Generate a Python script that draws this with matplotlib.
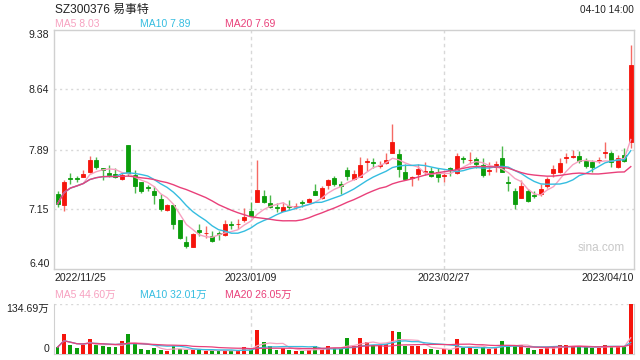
import numpy as np
import pandas as pd
import matplotlib
matplotlib.use('Agg')
import matplotlib.pyplot as plt

plt.rcParams['font.family'] = ['Liberation Sans', 'Noto Sans CJK SC', 'DejaVu Sans']

# 日K数据 (2022/11/25 - 2023/04/10, 90 个交易日)
opens = [7.335, 7.198, 7.541, 7.533, 7.554, 7.604, 7.761, 7.657, 7.600, 7.587,
         7.525, 7.947, 7.575, 7.484, 7.426, 7.380, 7.277, 7.136, 7.202, 7.016,
         6.738, 6.676, 6.883, 6.846, 6.817, 6.850, 6.821, 6.962, 6.958, 7.007,
         7.127, 7.231, 7.310, 7.223, 7.177, 7.119, 7.185, 7.173, 7.239, 7.231,
         7.376, 7.293, 7.450, 7.533, 7.459, 7.637, 7.525, 7.554, 7.732, 7.740,
         7.682, 7.720, 7.844, 7.831, 7.616, 7.537, 7.583, 7.612, 7.624, 7.608,
         7.562, 7.657, 7.595, 7.790, 7.757, 7.773, 7.699, 7.624, 7.678, 7.790,
         7.492, 7.376, 7.293, 7.376, 7.326, 7.335, 7.430, 7.595, 7.616, 7.782,
         7.798, 7.811, 7.749, 7.740, 7.744, 7.848, 7.852, 7.678, 7.823, 7.980]
highs = [7.368, 7.513, 7.595, 7.566, 7.633, 7.811, 7.794, 7.666, 7.699, 7.657,
         7.595, 7.947, 7.637, 7.492, 7.450, 7.430, 7.335, 7.214, 7.202, 7.016,
         6.817, 6.854, 6.966, 6.933, 6.871, 6.871, 7.016, 7.003, 7.028, 7.161,
         7.231, 7.761, 7.388, 7.318, 7.223, 7.235, 7.264, 7.223, 7.264, 7.285,
         7.459, 7.430, 7.525, 7.566, 7.500, 7.678, 7.629, 7.802, 7.790, 7.790,
         7.749, 7.852, 8.208, 7.893, 7.707, 7.566, 7.707, 7.740, 7.678, 7.657,
         7.616, 7.670, 7.844, 7.815, 7.856, 7.802, 7.790, 7.740, 7.749, 7.935,
         7.562, 7.409, 7.512, 7.401, 7.376, 7.459, 7.554, 7.699, 7.790, 7.844,
         7.881, 7.873, 7.790, 7.761, 7.802, 7.980, 7.873, 7.823, 7.906, 9.190]
lows = [7.181, 7.119, 7.467, 7.484, 7.546, 7.595, 7.649, 7.512, 7.546, 7.533,
        7.512, 7.566, 7.355, 7.355, 7.380, 7.214, 7.119, 7.119, 6.904, 6.776,
        6.664, 6.676, 6.809, 6.788, 6.738, 6.767, 6.809, 6.896, 6.904, 6.987,
        7.057, 7.231, 7.223, 7.161, 7.111, 7.119, 7.140, 7.152, 7.169, 7.223,
        7.318, 7.277, 7.397, 7.442, 7.335, 7.512, 7.512, 7.542, 7.624, 7.657,
        7.666, 7.707, 7.844, 7.542, 7.512, 7.430, 7.512, 7.575, 7.542, 7.492,
        7.492, 7.566, 7.583, 7.720, 7.711, 7.657, 7.542, 7.575, 7.616, 7.608,
        7.368, 7.152, 7.285, 7.235, 7.285, 7.306, 7.409, 7.550, 7.595, 7.720,
        7.782, 7.720, 7.657, 7.608, 7.720, 7.782, 7.678, 7.666, 7.732, 7.914]
closes = [7.214, 7.492, 7.525, 7.517, 7.587, 7.761, 7.678, 7.641, 7.575, 7.550,
          7.575, 7.595, 7.442, 7.380, 7.409, 7.318, 7.152, 7.198, 6.966, 6.788,
          6.684, 6.838, 6.867, 6.854, 6.747, 6.833, 6.962, 6.950, 6.966, 7.045,
          7.069, 7.388, 7.243, 7.169, 7.161, 7.177, 7.169, 7.185, 7.223, 7.272,
          7.326, 7.409, 7.512, 7.459, 7.442, 7.566, 7.587, 7.699, 7.744, 7.724,
          7.695, 7.761, 7.980, 7.649, 7.525, 7.554, 7.649, 7.624, 7.566, 7.554,
          7.575, 7.641, 7.811, 7.773, 7.765, 7.707, 7.575, 7.633, 7.711, 7.616,
          7.475, 7.214, 7.438, 7.252, 7.310, 7.401, 7.525, 7.649, 7.728, 7.794,
          7.807, 7.753, 7.691, 7.678, 7.757, 7.860, 7.732, 7.790, 7.749, 8.941]
# 成交量 (万手)
volumes = [19, 54, 25, 16, 25, 41, 25, 22, 19, 19,
           36, 54, 28, 14, 12, 17, 11, 9, 22, 14,
           11, 11, 11, 9, 11, 9, 11, 9, 9, 19,
           14, 65, 32, 22, 11, 17, 11, 9, 9, 11,
           22, 14, 22, 17, 14, 43, 22, 43, 32, 25,
           25, 28, 62, 59, 22, 22, 22, 14, 14, 11,
           14, 11, 41, 19, 19, 14, 19, 14, 19, 37,
           22, 22, 26, 17, 11, 14, 19, 22, 25, 25,
           22, 22, 19, 17, 17, 25, 21, 21, 21, 134.69]

date_labels = ['2022/11/25', '2023/01/09', '2023/02/27', '2023/04/10']
date_idx = [0, 30, 60, 89]
price_ticks = [6.40, 7.15, 7.89, 8.64, 9.38]
vol_max = 134.69

RED = '#f5140c'
GREEN = '#0a9d0a'
C_MA5 = '#f7a1c0'
C_MA10 = '#35bde0'
C_MA20 = '#e9407a'
GRID = '#d8d8d8'
FRAME = '#d0d0d0'

o = np.array(opens)
h = np.array(highs)
l = np.array(lows)
c = np.array(closes)
v = np.array(volumes)
x = np.arange(len(c))
up = c >= o
cols = np.where(up, RED, GREEN)
wick_cols = np.where(up, '#f56a64', '#4cb84c')

fig = plt.figure(figsize=(6.4, 3.6), dpi=100)
ax = fig.add_axes([54.3 / 640, 1 - 269.3 / 360, (634 - 54.3) / 640, (269.3 - 29.7) / 360])
axv = fig.add_axes([54.3 / 640, 1 - 354.3 / 360, (634 - 54.3) / 640, 50 / 360])

# K线
ax.vlines(x, l, h, colors=wick_cols, linewidth=1.0, zorder=2)
body_bot = np.minimum(o, c)
body_h = np.maximum(np.abs(c - o), 0.006)
ax.bar(x, body_h, bottom=body_bot, width=0.62, color=cols, edgecolor=cols,
       linewidth=0.6, zorder=3)

s = pd.Series(c)
ax.plot(x, s.rolling(5, min_periods=1).mean(), color=C_MA5, lw=1.0, zorder=4)
ax.plot(x, s.rolling(10, min_periods=1).mean(), color=C_MA10, lw=1.0, zorder=4)
ax.plot(x, s.rolling(20, min_periods=1).mean(), color=C_MA20, lw=1.0, zorder=4)

ax.set_xlim(-0.5, 89.5)
ax.set_ylim(price_ticks[0], price_ticks[-1])
ax.set_yticks(price_ticks)
ax.set_yticklabels(['%.2f' % t for t in price_ticks])
ax.set_xticks([])
ax.tick_params(axis='y', length=0, labelsize=7.6, pad=3.5, colors='#222222')
tl = ax.get_yticklabels()
tl[0].set_va('bottom')
tl[-1].set_va('top')
for t in price_ticks[1:-1]:
    ax.axhline(t, color=GRID, lw=1.0, ls=(0, (1.5, 2.5)), zorder=1)
for i in date_idx[1:3]:
    ax.axvline(i, color=GRID, lw=1.0, ls=(0, (2.5, 2.5)), zorder=1)
for sp in ax.spines.values():
    sp.set_color(FRAME)
    sp.set_linewidth(1.0)

ax.text(0.985, 0.09, 'sina.com', transform=ax.transAxes, ha='right', va='center',
        fontsize=8.5, color='#c8c8c8')

# 日期
for lab, i in zip(date_labels, date_idx):
    ha = 'center'
    if i == date_idx[0]:
        ha = 'left'
        xx = -0.5
    elif i == date_idx[-1]:
        ha = 'right'
        xx = 89.5
    else:
        xx = i
    ax.text(xx, -0.016, lab, transform=ax.get_xaxis_transform(), ha=ha, va='top',
            fontsize=7.6, color='#222222')

# 成交量
axv.bar(x, v, width=0.6, color=cols, linewidth=0, zorder=3)
vs = pd.Series(v)
axv.plot(x, vs.rolling(5, min_periods=1).mean(), color=C_MA5, lw=0.9, zorder=4)
axv.plot(x, vs.rolling(10, min_periods=1).mean(), color=C_MA10, lw=0.9, zorder=4)
axv.plot(x, vs.rolling(20, min_periods=1).mean(), color=C_MA20, lw=0.9, zorder=4)
axv.set_xlim(-0.5, 89.5)
axv.set_ylim(0, vol_max)
axv.set_yticks([0, vol_max])
axv.set_yticklabels(['0', '%.2f万' % vol_max])
axv.set_xticks([])
axv.tick_params(axis='y', length=0, labelsize=7.6, pad=3.5, colors='#222222')
vl = axv.get_yticklabels()
vl[0].set_va('bottom')
vl[-1].set_va('top')
axv.axhline(vol_max, color=GRID, lw=1.0, ls=(0, (1.5, 2.5)), zorder=1)
for i in date_idx[1:3]:
    axv.axvline(i, color=GRID, lw=1.0, ls=(0, (2.5, 2.5)), zorder=1)
axv.spines['top'].set_visible(False)
for k in ['left', 'right', 'bottom']:
    axv.spines[k].set_color(FRAME)

# 标题和均线数值
def px(xp, yp):
    return xp / 640, 1 - yp / 360

fig.text(*px(55, 10), 'SZ300376 易事特', fontsize=8.6, color='#222222', va='center')
fig.text(*px(634, 10), '04-10 14:00', fontsize=7.2, color='#222222', va='center', ha='right')
fig.text(*px(55, 24), 'MA5 8.03', fontsize=7.5, color=C_MA5, va='center')
fig.text(*px(140, 24), 'MA10 7.89', fontsize=7.5, color=C_MA10, va='center')
fig.text(*px(225, 24), 'MA20 7.69', fontsize=7.5, color=C_MA20, va='center')
fig.text(*px(55, 295), 'MA5 44.60万', fontsize=7.5, color=C_MA5, va='center')
fig.text(*px(140, 295), 'MA10 32.01万', fontsize=7.5, color=C_MA10, va='center')
fig.text(*px(225, 295), 'MA20 26.05万', fontsize=7.5, color=C_MA20, va='center')

fig.savefig('out.png', dpi=100)
